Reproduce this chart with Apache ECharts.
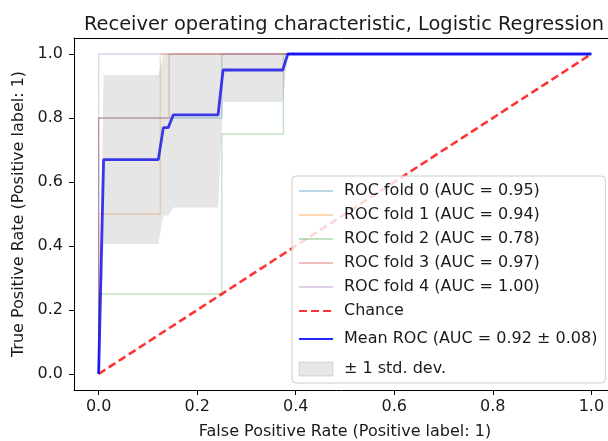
<!DOCTYPE html>
<html><head><meta charset="utf-8">
<script src="https://cdn.jsdelivr.net/npm/echarts@6/dist/echarts.min.js"></script>
<style>html,body{margin:0;padding:0;background:#fff}#c{width:608px;height:441px}</style>
</head><body><div id="c"></div>
<script>
// ---- data ----
var foldNames = ['ROC fold 0 (AUC = 0.95)','ROC fold 1 (AUC = 0.94)','ROC fold 2 (AUC = 0.78)','ROC fold 3 (AUC = 0.97)','ROC fold 4 (AUC = 1.00)'];
var fold0Fpr = [0, 0, 0.25, 0.25, 1];
var fold0Tpr = [0, 0.8, 0.8, 1, 1];
var fold1Fpr = [0, 0, 0.125, 0.125, 1];
var fold1Tpr = [0, 0.5, 0.5, 1, 1];
var fold2Fpr = [0, 0, 0.25, 0.25, 0.375, 0.375, 1];
var fold2Tpr = [0, 0.25, 0.25, 0.75, 0.75, 1, 1];
var fold3Fpr = [0, 0, 0.143, 0.143, 1];
var fold3Tpr = [0, 0.8, 0.8, 1, 1];
var fold4Fpr = [0, 0, 1];
var fold4Tpr = [0, 1, 1];
var chanceFpr = [0, 1];
var chanceTpr = [0, 1];
var meanFpr   = [0, 0.0101, 0.1212, 0.1313, 0.1414, 0.1515, 0.2424, 0.2525, 0.3737, 0.3838, 1];
var meanTpr   = [0, 0.67, 0.67, 0.77, 0.77, 0.81, 0.81, 0.95, 0.95, 1, 1];
var upperTpr  = [0, 0.934, 0.934, 1, 1, 1, 1, 1, 1, 1, 1];
var lowerTpr  = [0, 0.406, 0.406, 0.495, 0.495, 0.52, 0.52, 0.85, 0.85, 1, 1];
var tickValues = [0, 0.2, 0.4, 0.6, 0.8, 1.0];
var meanName = 'Mean ROC (AUC = 0.92 \u00b1 0.08)';
var stdName = '\u00b1 1 std. dev.';
var chanceName = 'Chance';

function pairs(xs, ys){ return xs.map(function(x,i){ return [x, ys[i]]; }); }

var foldColors = ['rgba(31,119,180,0.3)','rgba(255,127,14,0.3)','rgba(44,160,44,0.3)','rgba(214,39,40,0.3)','rgba(148,103,189,0.3)'];
var foldData = [pairs(fold0Fpr,fold0Tpr),pairs(fold1Fpr,fold1Tpr),pairs(fold2Fpr,fold2Tpr),pairs(fold3Fpr,fold3Tpr),pairs(fold4Fpr,fold4Tpr)];

var FONT = 'DejaVu Sans';
var TXT = '#1a1a1a';
var series = [];
foldData.forEach(function(d,i){
  series.push({name: foldNames[i], type:'line', data:d, symbol:'none', silent:true,
    lineStyle:{color:foldColors[i], width:1.3}, itemStyle:{color:foldColors[i]}, z:2});
});
series.push({name: chanceName, type:'line', data:pairs(chanceFpr,chanceTpr), symbol:'none',
  lineStyle:{color:'rgba(255,0,0,0.8)', width:2.6, type:[8,4]}, itemStyle:{color:'rgba(255,0,0,0.8)'}, z:3});
series.push({name: meanName, type:'line', data:pairs(meanFpr,meanTpr), symbol:'none',
  lineStyle:{color:'rgba(0,0,255,0.85)', width:2.8}, itemStyle:{color:'rgba(0,0,255,0.85)'}, z:4});
var bandData = meanFpr.map(function(x,i){ return [x, lowerTpr[i], upperTpr[i]]; });
series.push({name: stdName, type:'custom', data:[0], z:5, silent:true,
  itemStyle:{color:'rgba(128,128,128,0.2)'},
  renderItem:function(params, api){
    var pts = [];
    bandData.forEach(function(r){ pts.push(api.coord([r[0], r[2]])); });
    for (var k = bandData.length-1; k>=0; k--) pts.push(api.coord([bandData[k][0], bandData[k][1]]));
    return {type:'polygon', shape:{points:pts}, style:{fill:'rgba(128,128,128,0.2)', stroke:null}};
  }});

var axisCommon = {
  type:'value', min:-0.05, max:1.05,
  splitLine:{show:false},
  axisLine:{show:true, onZero:false, lineStyle:{color:'#000', width:1}},
  axisTick:{show:true, length:5, customValues:tickValues, lineStyle:{color:'#000'}},
  axisLabel:{customValues:tickValues, formatter:function(v){return v.toFixed(1);}, color:TXT, fontFamily:FONT, fontSize:16},
  nameLocation:'middle', nameTextStyle:{fontFamily:FONT, fontSize:16, color:TXT}
};

var legendData = foldNames.concat([chanceName]).map(function(n){
  return {name:n, textStyle:{lineHeight:16}};
});
legendData.push({name:meanName, textStyle:{lineHeight:24}});
legendData.push({name:stdName, icon:'rect', itemStyle:{color:'rgba(128,128,128,0.2)', opacity:1, borderColor:'rgba(128,128,128,0.25)', borderWidth:1}, textStyle:{lineHeight:20}});

var chart = echarts.init(document.getElementById('c'), null, {renderer:'canvas'});
chart.setOption({
  animation:false,
  backgroundColor:'#fff',
  title:{text:'Receiver operating characteristic, Logistic Regression', left:339, textAlign:'center', top:10,
    textStyle:{fontFamily:FONT, fontSize:19.4, fontWeight:'normal', color:TXT}},
  grid:{left:74, top:38, width:542, height:352, show:false, outerBoundsMode:'none', containLabel:false},
  xAxis: [
    Object.assign({}, axisCommon, {name:'False Positive Rate (Positive label: 1)', nameGap:34, axisLabel:Object.assign({}, axisCommon.axisLabel, {margin:9})}),
    {type:'value', position:'top', min:-0.05, max:1.05, splitLine:{show:false}, axisTick:{show:false}, axisLabel:{show:false},
     axisLine:{show:true, onZero:false, lineStyle:{color:'#000', width:1}}}
  ],
  yAxis: Object.assign({}, axisCommon, {name:'True Positive Rate (Positive label: 1)', nameGap:44, axisLabel:Object.assign({}, axisCommon.axisLabel, {margin:11})}),
  legend:{
    orient:'vertical', left:292, top:176,
    padding:[7,8,4,6], itemGap:8, itemWidth:34, itemHeight:14,
    backgroundColor:'rgba(255,255,255,0.8)', borderColor:'#cccccc', borderWidth:1, borderRadius:4,
    itemStyle:{opacity:0},
    textStyle:{fontFamily:FONT, fontSize:16, color:TXT, padding:[0,0,0,6]},
    data: legendData
  },
  series: series
});
</script></body></html>
